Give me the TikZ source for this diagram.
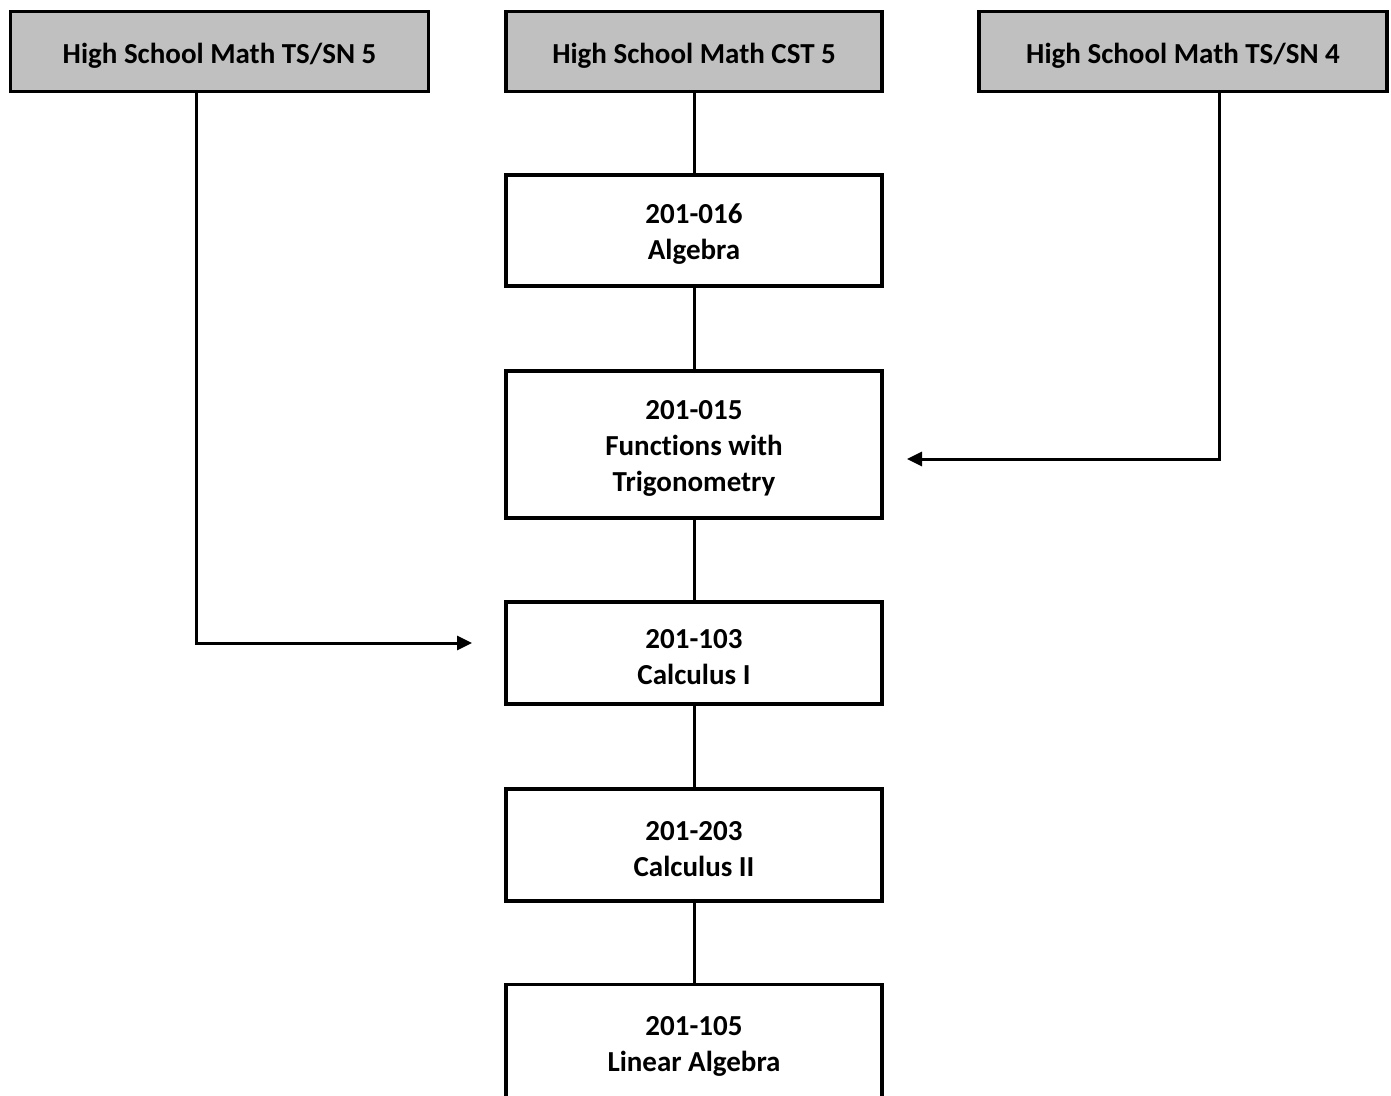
\documentclass[tikz,border=0pt]{standalone}
\usepackage{fontspec}
\setmainfont{Carlito}[Ligatures=NoCommon]
\usetikzlibrary{arrows.meta}
\definecolor{hsgray}{RGB}{192,192,192}
\tikzset{
  course/.style={draw=black,line width=3.8bp,fill=white,inner sep=0pt},
  coursetext/.style={align=center,inner sep=0pt,yshift=-4bp,
    font=\fontsize{29bp}{36bp}\selectfont\bfseries},
  hsbox/.style={course,fill=hsgray,minimum height=80bp},
  conn/.style={draw=black,line width=3bp},
  prereq/.style={conn,-{Triangle[length=15bp,width=14bp]}},
}
\begin{document}
\begin{tikzpicture}[x=1bp,y=-1bp]
  \useasboundingbox (0,0) rectangle (1391,1095);
  \clip (0,0) rectangle (1391,1095);
%%
  % Node: high school courses
  \node[hsbox,minimum width=418bp,label={[coursetext]center:{High School Math TS/SN 5}}] (hsts5) at (219.5,51.5) {};
  \node[hsbox,minimum width=376.5bp,label={[coursetext]center:{High School Math CST 5}}] (hscst5) at (694,51.5) {};
  \node[hsbox,minimum width=408.5bp,label={[coursetext]center:{High School Math TS/SN 4}}] (hsts4) at (1183,51.5) {};
  % Node: college courses
  \node[course,minimum width=376.5bp,minimum height=111.5bp,label={[coursetext]center:{201-016\\Algebra}}] (alg) at (694,230.5) {};
  \node[course,minimum width=376.5bp,minimum height=147.5bp,label={[coursetext]center:{201-015\\Functions with\\Trigonometry}}] (func) at (694,444.5) {};
  \node[course,minimum width=376.5bp,minimum height=102.5bp,label={[coursetext]center:{201-103\\Calculus I}}] (calcI) at (694,653) {};
  \node[course,minimum width=376.5bp,minimum height=112.5bp,label={[coursetext]center:{201-203\\Calculus II}}] (calcII) at (694,845) {};
  \node[course,minimum width=376.5bp,minimum height=115bp,label={[coursetext]center:{201-105\\Linear Algebra}}] (linalg) at (694,1042) {};
  % Coordinates: bends and arrow ends
  \coordinate (bendL) at (196,643);
  \coordinate (tipL) at (472,643);
  \coordinate (bendR) at (1219,459);
  \coordinate (tipR) at (907,459);
%%
  % Edge: hscst5 -> alg -> func -> calcI -> calcII -> linalg
  \draw[conn] (hscst5.south) -- (alg.north);
  \draw[conn] (alg.south) -- (func.north);
  \draw[conn] (func.south) -- (calcI.north);
  \draw[conn] (calcI.south) -- (calcII.north);
  \draw[conn] (calcII.south) -- (linalg.north);
  % Edge: hsts5 -> calcI
  \draw[prereq] (hsts5.south -| bendL) -- (bendL) -- (tipL);
  % Edge: hsts4 -> func
  \draw[prereq] (hsts4.south -| bendR) -- (bendR) -- (tipR);
%
\end{tikzpicture}
\end{document}
